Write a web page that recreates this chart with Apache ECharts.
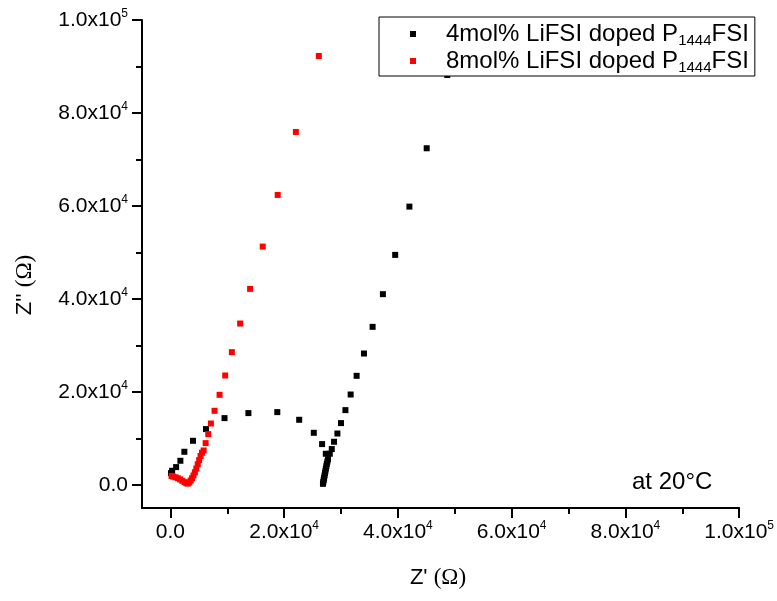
<!DOCTYPE html>
<html>
<head>
<meta charset="utf-8">
<script src="https://cdn.jsdelivr.net/npm/echarts@6/dist/echarts.min.js"></script>
<style>html,body{margin:0;padding:0;background:#fff}#c{width:777px;height:601px}</style>
</head>
<body>
<div id="c"></div>
<script>
// ---- data ----
const seriesNames = ['4mol% LiFSI doped P1444FSI', '8mol% LiFSI doped P1444FSI'];
const black4Re = [100, 300, 1000, 1750, 2450, 3970, 6250, 9510, 13710, 18790, 22640, 25210, 26670, 27320,
  27700, 27600, 27500, 27420, 27340, 27260, 27180, 27100, 27020, 26950, 26880, 26820,
  28020, 28370, 28770, 29360, 29990, 30770, 31690, 32740, 34030, 35550, 37360, 39520, 42020, 45060, 48680];
const black4Im = [2500, 3010, 3800, 5160, 7100, 9460, 11980, 14340, 15420, 15630, 13980, 11180, 8750, 6670,
  5500, 5000, 4500, 4000, 3500, 3000, 2500, 2000, 1500, 1050, 600, 200,
  6670, 7680, 9250, 11030, 13270, 16060, 19420, 23440, 28240, 33980, 41010, 49460, 59850, 72400, 88170];
const red8Re = [200, 500, 900, 1300, 1700, 2100, 2500, 2800, 3050, 3300, 3550, 3800, 4050, 4300, 4550, 4800, 5050, 5300, 5550,
  5840, 6190, 6650, 7120, 7760, 8640, 9630, 10800, 12260, 14010, 16230, 18860, 22060, 26090];
const red8Im = [1900, 1750, 1600, 1400, 1150, 850, 550, 350, 250, 500, 900, 1400, 2000, 2700, 3500, 4400, 5300, 6200, 6900,
  7380, 8960, 10900, 13180, 15910, 19350, 23510, 28530, 34690, 42150, 51250, 62360, 75910, 92260];
const majorTicks = [0, 20000, 40000, 60000, 80000, 100000];
const minorTicks = [10000, 30000, 50000, 70000, 90000];
const axisMin = -5000, axisMax = 100000;
const xTitle = "Z' ";
const yTitle = "Z'' ";
const unitText = '(Ω)';
const noteText = 'at 20°C';

function zip(a, b) { return a.map((v, i) => [v, b[i]]); }
function fmt(v) {
  if (v === 0) return '{m|0.0}';
  const e = Math.floor(Math.log10(v) + 1e-9);
  return '{m|' + (v / Math.pow(10, e)).toFixed(1) + 'x10}{s|' + e + '}';
}
const richLab = {
  m: { fontFamily: 'Liberation Sans', fontSize: 21, color: '#000', lineHeight: 24 },
  s: { fontFamily: 'Liberation Sans', fontSize: 12, color: '#000', verticalAlign: 'top', lineHeight: 14 }
};
const baseFont = 'Liberation Sans';

function mainAxis(isX) {
  return {
    type: 'value', min: axisMin, max: axisMax,
    position: isX ? 'bottom' : 'left',
    axisLine: { show: true, onZero: false, lineStyle: { color: '#000', width: 2 } },
    axisTick: { show: true, inside: false, length: 10, customValues: majorTicks, lineStyle: { color: '#000', width: 2 } },
    axisLabel: { show: true, margin: isX ? 12 : 14, customValues: majorTicks, formatter: fmt, rich: richLab },
    splitLine: { show: false }
  };
}
function minorAxis(isX) {
  return {
    type: 'value', min: axisMin, max: axisMax,
    position: isX ? 'bottom' : 'left',
    axisLine: { show: false, onZero: false },
    axisTick: { show: true, inside: false, length: 6, customValues: minorTicks, lineStyle: { color: '#000', width: 2 } },
    axisLabel: { show: false },
    splitLine: { show: false }
  };
}

const chart = echarts.init(document.getElementById('c'), null, { renderer: 'canvas' });
chart.setOption({
  backgroundColor: '#fff',
  animation: false,
  grid: { left: 142, right: 36, top: 20, bottom: 93, containLabel: false },
  xAxis: [mainAxis(true), minorAxis(true)],
  yAxis: [mainAxis(false), minorAxis(false)],
  legend: {
    orient: 'vertical', left: 379, top: 17,
    padding: [5, 6, 1, 31], itemGap: 1,
    itemWidth: 6, itemHeight: 6,
    borderColor: '#000', borderWidth: 1, backgroundColor: '#fff',
    z: 10,
    data: seriesNames,
    formatter: function (name) {
      const i = name.indexOf('P1444');
      return '{lead|' + name.slice(0, i + 1) + '}{sub|1444}{t|' + name.slice(i + 5) + '}';
    },
    textStyle: {
      rich: {
        lead: { fontFamily: baseFont, fontSize: 24, color: '#000', lineHeight: 28, padding: [0, 0, 0, 25] },
        t: { fontFamily: baseFont, fontSize: 24, color: '#000', lineHeight: 28 },
        sub: { fontFamily: baseFont, fontSize: 15, color: '#000', lineHeight: 15, verticalAlign: 'bottom' }
      }
    }
  },
  graphic: [
    { type: 'text', left: 632, top: 470, style: { text: noteText, font: '24px "Liberation Sans"', fill: '#000' } },
    { type: 'text', x: 438, y: 578, style: {
        text: '{a|' + xTitle + '}{b|' + unitText + '}', align: 'center', verticalAlign: 'middle',
        rich: { a: { fontFamily: baseFont, fontSize: 22, fill: '#000' }, b: { fontFamily: 'Liberation Serif', fontSize: 23, fill: '#000' } } } },
    { type: 'text', x: 25, y: 285, rotation: Math.PI / 2, style: {
        text: '{a|' + yTitle + '}{b|' + unitText + '}', align: 'center', verticalAlign: 'middle',
        rich: { a: { fontFamily: baseFont, fontSize: 22, fill: '#000' }, b: { fontFamily: 'Liberation Serif', fontSize: 23, fill: '#000' } } } }
  ],
  series: [
    { name: seriesNames[0], type: 'scatter', symbol: 'rect', symbolSize: 6, itemStyle: { color: '#000', opacity: 1 },
      xAxisIndex: 0, yAxisIndex: 0, data: zip(black4Re, black4Im), z: 2 },
    { name: seriesNames[1], type: 'scatter', symbol: 'rect', symbolSize: 6, itemStyle: { color: '#ff0000', opacity: 1 },
      xAxisIndex: 0, yAxisIndex: 0, data: zip(red8Re, red8Im), z: 3 }
  ]
});
</script>
</body>
</html>
